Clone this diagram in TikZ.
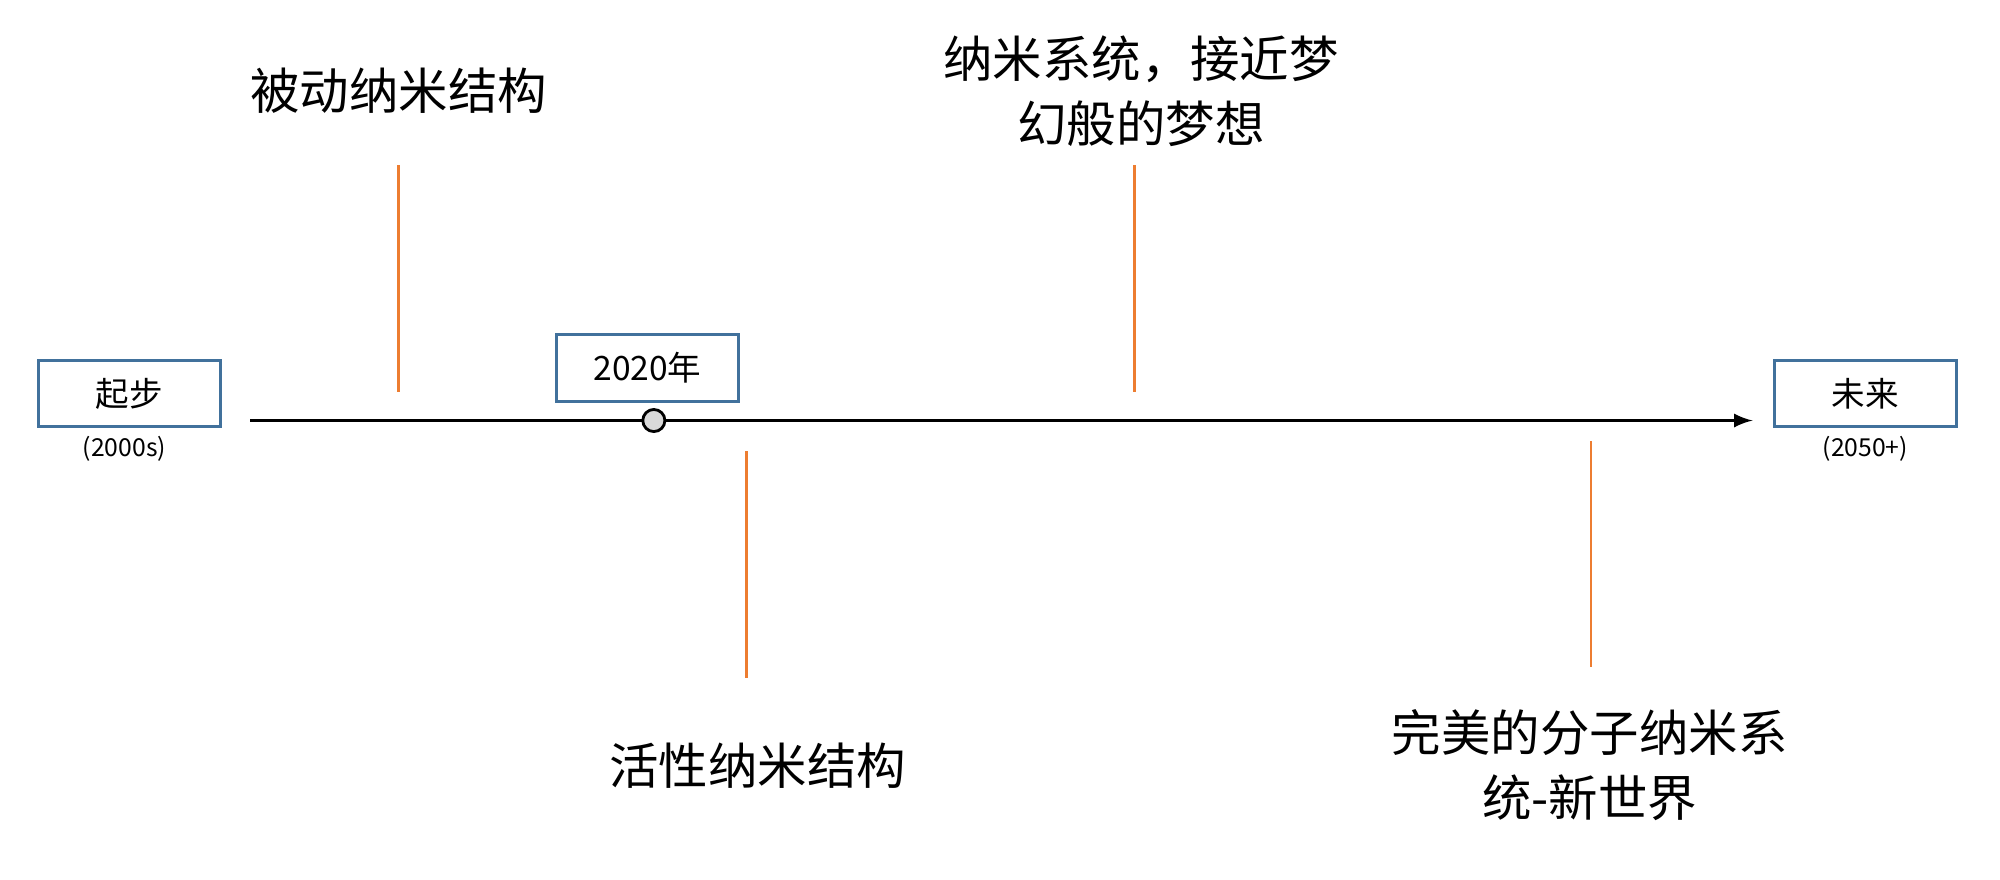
\documentclass[tikz,border=0pt]{standalone}
\usepackage{fontspec}
\setmainfont{Noto Sans CJK SC}
\definecolor{boxblue}{RGB}{65,113,156}
\definecolor{tickorange}{RGB}{237,125,49}
\begin{document}
\begin{tikzpicture}[x=0.01276cm, y=-0.01276cm,
    yearbox/.style={draw=boxblue, thick, minimum width=1.81cm, minimum height=0.66cm, inner sep=0pt, font=\fontsize{9.5}{11}\selectfont},
    tick/.style={draw=tickorange, thick},
    era/.style={align=center, font=\fontsize{14}{18.5}\selectfont},
    sub/.style={font=\fontsize{7}{8}\selectfont}]
\useasboundingbox (0,0) rectangle (1560,686);

% Time axis
\coordinate (tstart) at (195,328);
\coordinate (tend) at (1367,328);
\draw[-latex, thick] (tstart) -- (tend);

% End boxes
\node[yearbox] (start) at (101,307) {起步};
\node[sub] (startyr) at (97,350) {(2000s)};
\node[yearbox] (future) at (1455,307) {未来};
\node[sub] (futureyr) at (1455,350) {(2050+)};

% Year marker
\node[yearbox] (y2020) at (505,287) {2020年};
\node[draw, thick, fill=gray!30, circle, minimum size=0.22cm, inner sep=0pt] (dot) at (510,328) {};

% Stages above
\coordinate (a1) at (311,129); \coordinate (a2) at (311,306);
\draw[tick] (a1) -- (a2);
\node[era] (passive) at (311,71) {被动纳米结构};
\coordinate (c1) at (885,129); \coordinate (c2) at (885,306);
\draw[tick] (c1) -- (c2);
\node[era] (system) at (890,71) {纳米系统，接近梦\\幻般的梦想};

% Stages below
\coordinate (b1) at (582,352); \coordinate (b2) at (582,529);
\draw[tick] (b1) -- (b2);
\node[era] (active) at (591,597) {活性纳米结构};
\coordinate (d1) at (1241,344); \coordinate (d2) at (1241,520);
\draw[tick] (d1) -- (d2);
\node[era] (perfect) at (1240,597) {完美的分子纳米系\\统-新世界};

\end{tikzpicture}
\end{document}
